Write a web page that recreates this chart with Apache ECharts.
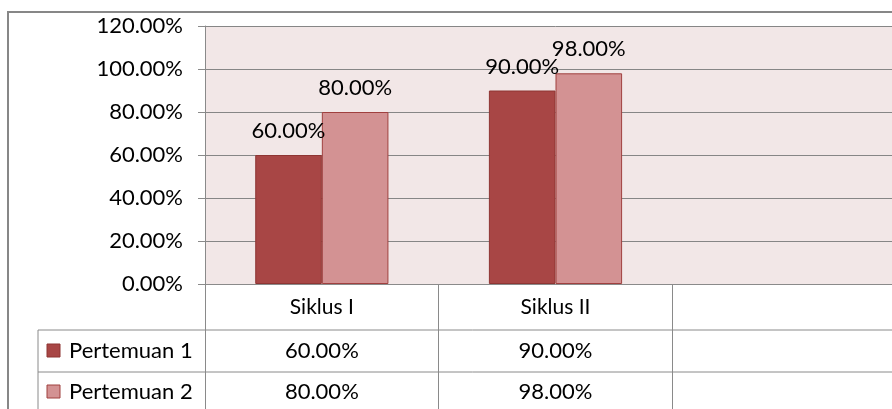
<!DOCTYPE html>
<html>
<head>
<meta charset="utf-8">
<script src="https://cdn.jsdelivr.net/npm/echarts@6/dist/echarts.min.js"></script>
<style>
  html, body { margin: 0; padding: 0; background: #ffffff; overflow: hidden; }
  /* the original picture is cropped on the right, so the chart runs past the window */
  #chart { width: 906px; height: 409px; }
</style>
</head>
<body>
<div id="chart"></div>
<script>
// data
const categories = ["Siklus I", "Siklus II", ""];
const seriesNames = ["Pertemuan 1", "Pertemuan 2"];
const pertemuan1 = [60, 90, null];
const pertemuan2 = [80, 98, null];
const yTicks = [0, 20, 40, 60, 80, 100, 120];

const colors = ["#A84645", "#D39293"];
const borders = ["#8E3533", "#A0403F"];
const font = "Lato";
const pct = (v) => Number(v).toFixed(2) + "%";

const chart = echarts.init(document.getElementById("chart"));

const option = {
  backgroundColor: "#ffffff",
  animation: false,
  grid: {
    left: 205,
    top: 26,
    bottom: 125,
    right: 0,
    show: true,
    backgroundColor: "#F2E7E7",
    borderWidth: 0,
  },
  xAxis: {
    type: "category",
    data: categories,
    axisLine: { show: true, lineStyle: { color: "#8a8a8a", width: 1 } },
    // ticks reach down to form the table's column lines
    axisTick: { show: true, interval: 0, length: 125, lineStyle: { color: "#8a8a8a", width: 1 } },
    axisLabel: {
      show: true,
      interval: 0,
      margin: 13,
      hideOverlap: false,
      fontFamily: font,
      fontSize: 21,
      color: "#000",
    },
  },
  yAxis: {
    type: "value",
    min: yTicks[0],
    max: yTicks[yTicks.length - 1],
    interval: 20,
    axisLine: { show: true, lineStyle: { color: "#8a8a8a", width: 1 } },
    axisTick: { show: true, length: 7, lineStyle: { color: "#8a8a8a" } },
    axisLabel: {
      margin: 22,
      fontFamily: font,
      fontSize: 22,
      color: "#000",
      formatter: (v) => pct(v),
    },
    splitLine: { show: true, lineStyle: { color: "#868686", width: 1 } },
  },
  series: [
    {
      name: seriesNames[0],
      type: "bar",
      data: pertemuan1,
      barWidth: "28.5%",
      barGap: "0%",
      itemStyle: { color: colors[0], borderColor: borders[0], borderWidth: 1 },
      label: {
        show: true,
        position: "top",
        distance: 13,
        fontFamily: font,
        fontSize: 22,
        color: "#000",
        formatter: (p) => pct(p.value),
      },
    },
    {
      name: seriesNames[1],
      type: "bar",
      data: pertemuan2,
      barWidth: "28.5%",
      barGap: "0%",
      itemStyle: { color: colors[1], borderColor: borders[1], borderWidth: 1 },
      label: {
        show: true,
        position: "top",
        distance: 13,
        fontFamily: font,
        fontSize: 22,
        color: "#000",
        formatter: (p) => pct(p.value),
      },
    },
  ],
};

chart.setOption(option);

// data table under the plot
function drawTable() {
  const rowLines = [330, 372];
  const rowMid = [351, 392];
  const rows = [pertemuan1, pertemuan2];
  const els = [];

  // outer frame
  els.push({
    type: "rect",
    shape: { x: 8, y: 12, width: 1000, height: 600 },
    style: { fill: "none", stroke: "#878787", lineWidth: 2 },
    silent: true,
  });

  rowLines.forEach((y) => {
    els.push({
      type: "line",
      shape: { x1: 38, y1: y, x2: 1000, y2: y },
      style: { stroke: "#8a8a8a", lineWidth: 1 },
      silent: true,
    });
  });
  els.push({
    type: "line",
    shape: { x1: 38, y1: rowLines[0], x2: 38, y2: 420 },
    style: { stroke: "#8a8a8a", lineWidth: 1 },
    silent: true,
  });

  rows.forEach((vals, i) => {
    // legend key
    els.push({
      type: "rect",
      shape: { x: 47, y: rowMid[i] - 7, width: 13, height: 13 },
      style: { fill: colors[i], stroke: borders[i], lineWidth: 1 },
      silent: true,
    });
    els.push({
      type: "text",
      x: 69,
      y: rowMid[i],
      style: {
        text: seriesNames[i],
        font: "22px " + font,
        fill: "#000",
        verticalAlign: "middle",
        align: "left",
      },
      silent: true,
    });
    vals.forEach((v, j) => {
      if (v == null) return;
      const x = chart.convertToPixel({ xAxisIndex: 0 }, categories[j]);
      els.push({
        type: "text",
        x: x,
        y: rowMid[i],
        style: {
          text: pct(v),
          font: "22px " + font,
          fill: "#000",
          verticalAlign: "middle",
          align: "center",
        },
        silent: true,
      });
    });
  });

  chart.setOption({ graphic: els });
}

drawTable();
</script>
</body>
</html>
